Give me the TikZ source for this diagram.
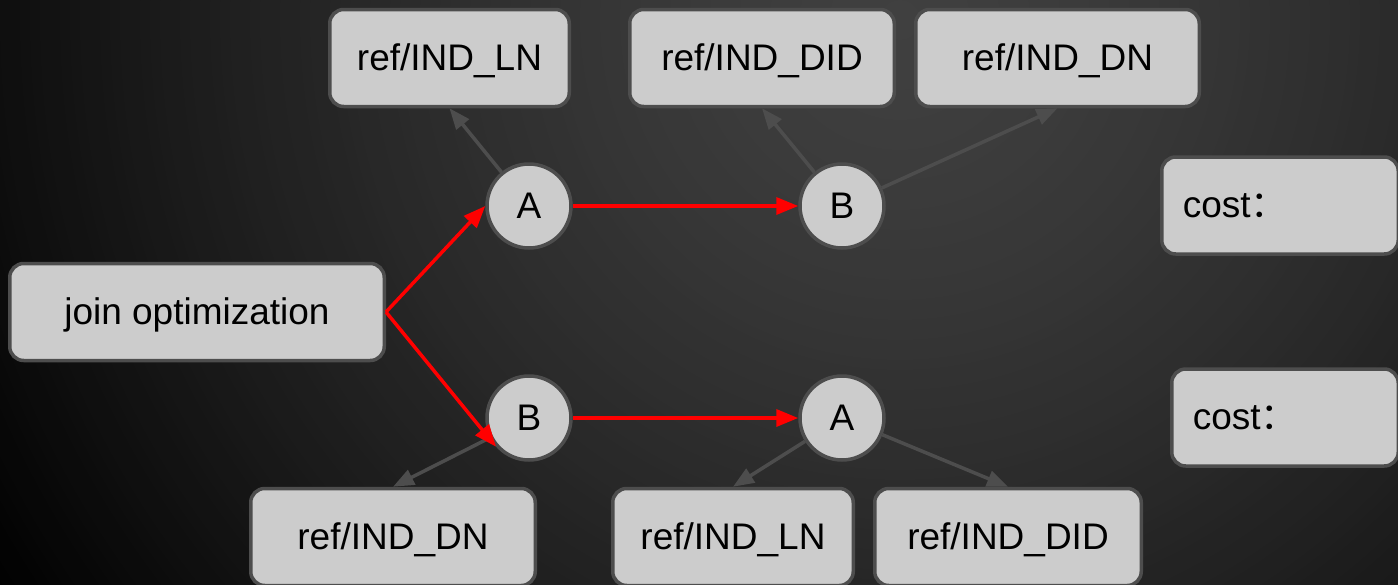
\documentclass[tikz,border=0pt]{standalone}
\usepackage{fontspec}
\setmainfont{Liberation Sans}
\newfontfamily\cjkfont{Noto Sans CJK SC}
\usetikzlibrary{arrows.meta}
\definecolor{boxfill}{HTML}{CCCCCC}
\definecolor{boxline}{HTML}{4D4D4D}
\definecolor{edgegray}{HTML}{4D4D4D}
\definecolor{pathred}{HTML}{FF0000}

\begin{document}
\begin{tikzpicture}[x=1pt,y=-1pt,
  every node/.style={font=\fontsize{37}{44}\selectfont, text height=27pt, text depth=3pt},
  box/.style={draw=boxline, fill=boxfill, line width=3.5pt, rounded corners=14pt,
              minimum height=97pt, inner sep=0pt},
  op/.style={circle, draw=boxline, fill=boxfill, line width=3.5pt,
             minimum size=84pt, inner sep=0pt},
  costbox/.style={box, align=left, inner xsep=21pt},
  link/.style={draw=edgegray, line width=3.5pt, -{Triangle[length=21pt,width=16pt]}},
  chosen/.style={draw=pathred, line width=3.5pt, -{Triangle[length=22pt,width=17pt]}},
]
\useasboundingbox (0,0) rectangle (1398,584);

% dark radial glow behind everything
\begin{scope}
  \clip (0,0) rectangle (1398,584);
  \fill[black] (0,0) rectangle (1398,584);
  \foreach \i in {0,...,107} {
    \pgfmathsetmacro\r{1080-10*\i}
    \pgfmathsetmacro\g{64*(1-(\r/1080)^1.42)/255}
    \definecolor{bgc}{gray}{\g}
    \fill[bgc] (900,20) circle[radius=\r pt];
  }
\end{scope}

% start
\node[box, minimum width=374.5pt] (join) at (197,312) {join optimization};

% first order: A then B
\node[op] (A1) at (529,206) {A};
\node[op] (B1) at (842,206) {B};
\node[box, minimum width=239.5pt] (LN1)  at (449.5,58) {ref/IND\_LN};
\node[box, minimum width=264.5pt] (DID1) at (762,58)   {ref/IND\_DID};
\node[box, minimum width=283.5pt] (DN1)  at (1057.5,58) {ref/IND\_DN};
\node[costbox, text width=194.5pt] (cost1) at (1280,205.5) {cost{\cjkfont ：}};

% second order: B then A
\node[op] (B2) at (529,418) {B};
\node[op] (A2) at (842,418) {A};
\node[box, minimum width=284.5pt] (DN2)  at (393,537)  {ref/IND\_DN};
\node[box, minimum width=240.5pt] (LN2)  at (733,537)  {ref/IND\_LN};
\node[box, minimum width=266.5pt] (DID2) at (1008,537) {ref/IND\_DID};
\node[costbox, text width=184.5pt] (cost2) at (1285,417.5) {cost{\cjkfont ：}};

% index lookups
\draw[link] (A1) -- (LN1.south);
\draw[link] (B1) -- (DID1.south);
\draw[link] (B1) -- (DN1.south);
\draw[link] (B2) -- (DN2.north);
\draw[link] (A2) -- (LN2.north);
\draw[link] (A2) -- (DID2.north);

% join orders
\draw[chosen] (join.east) -- (A1.west);
\draw[chosen] (join.east) -- (B2.221);
\draw[chosen] (A1) -- (B1);
\draw[chosen] (B2) -- (A2);
\end{tikzpicture}
\end{document}
